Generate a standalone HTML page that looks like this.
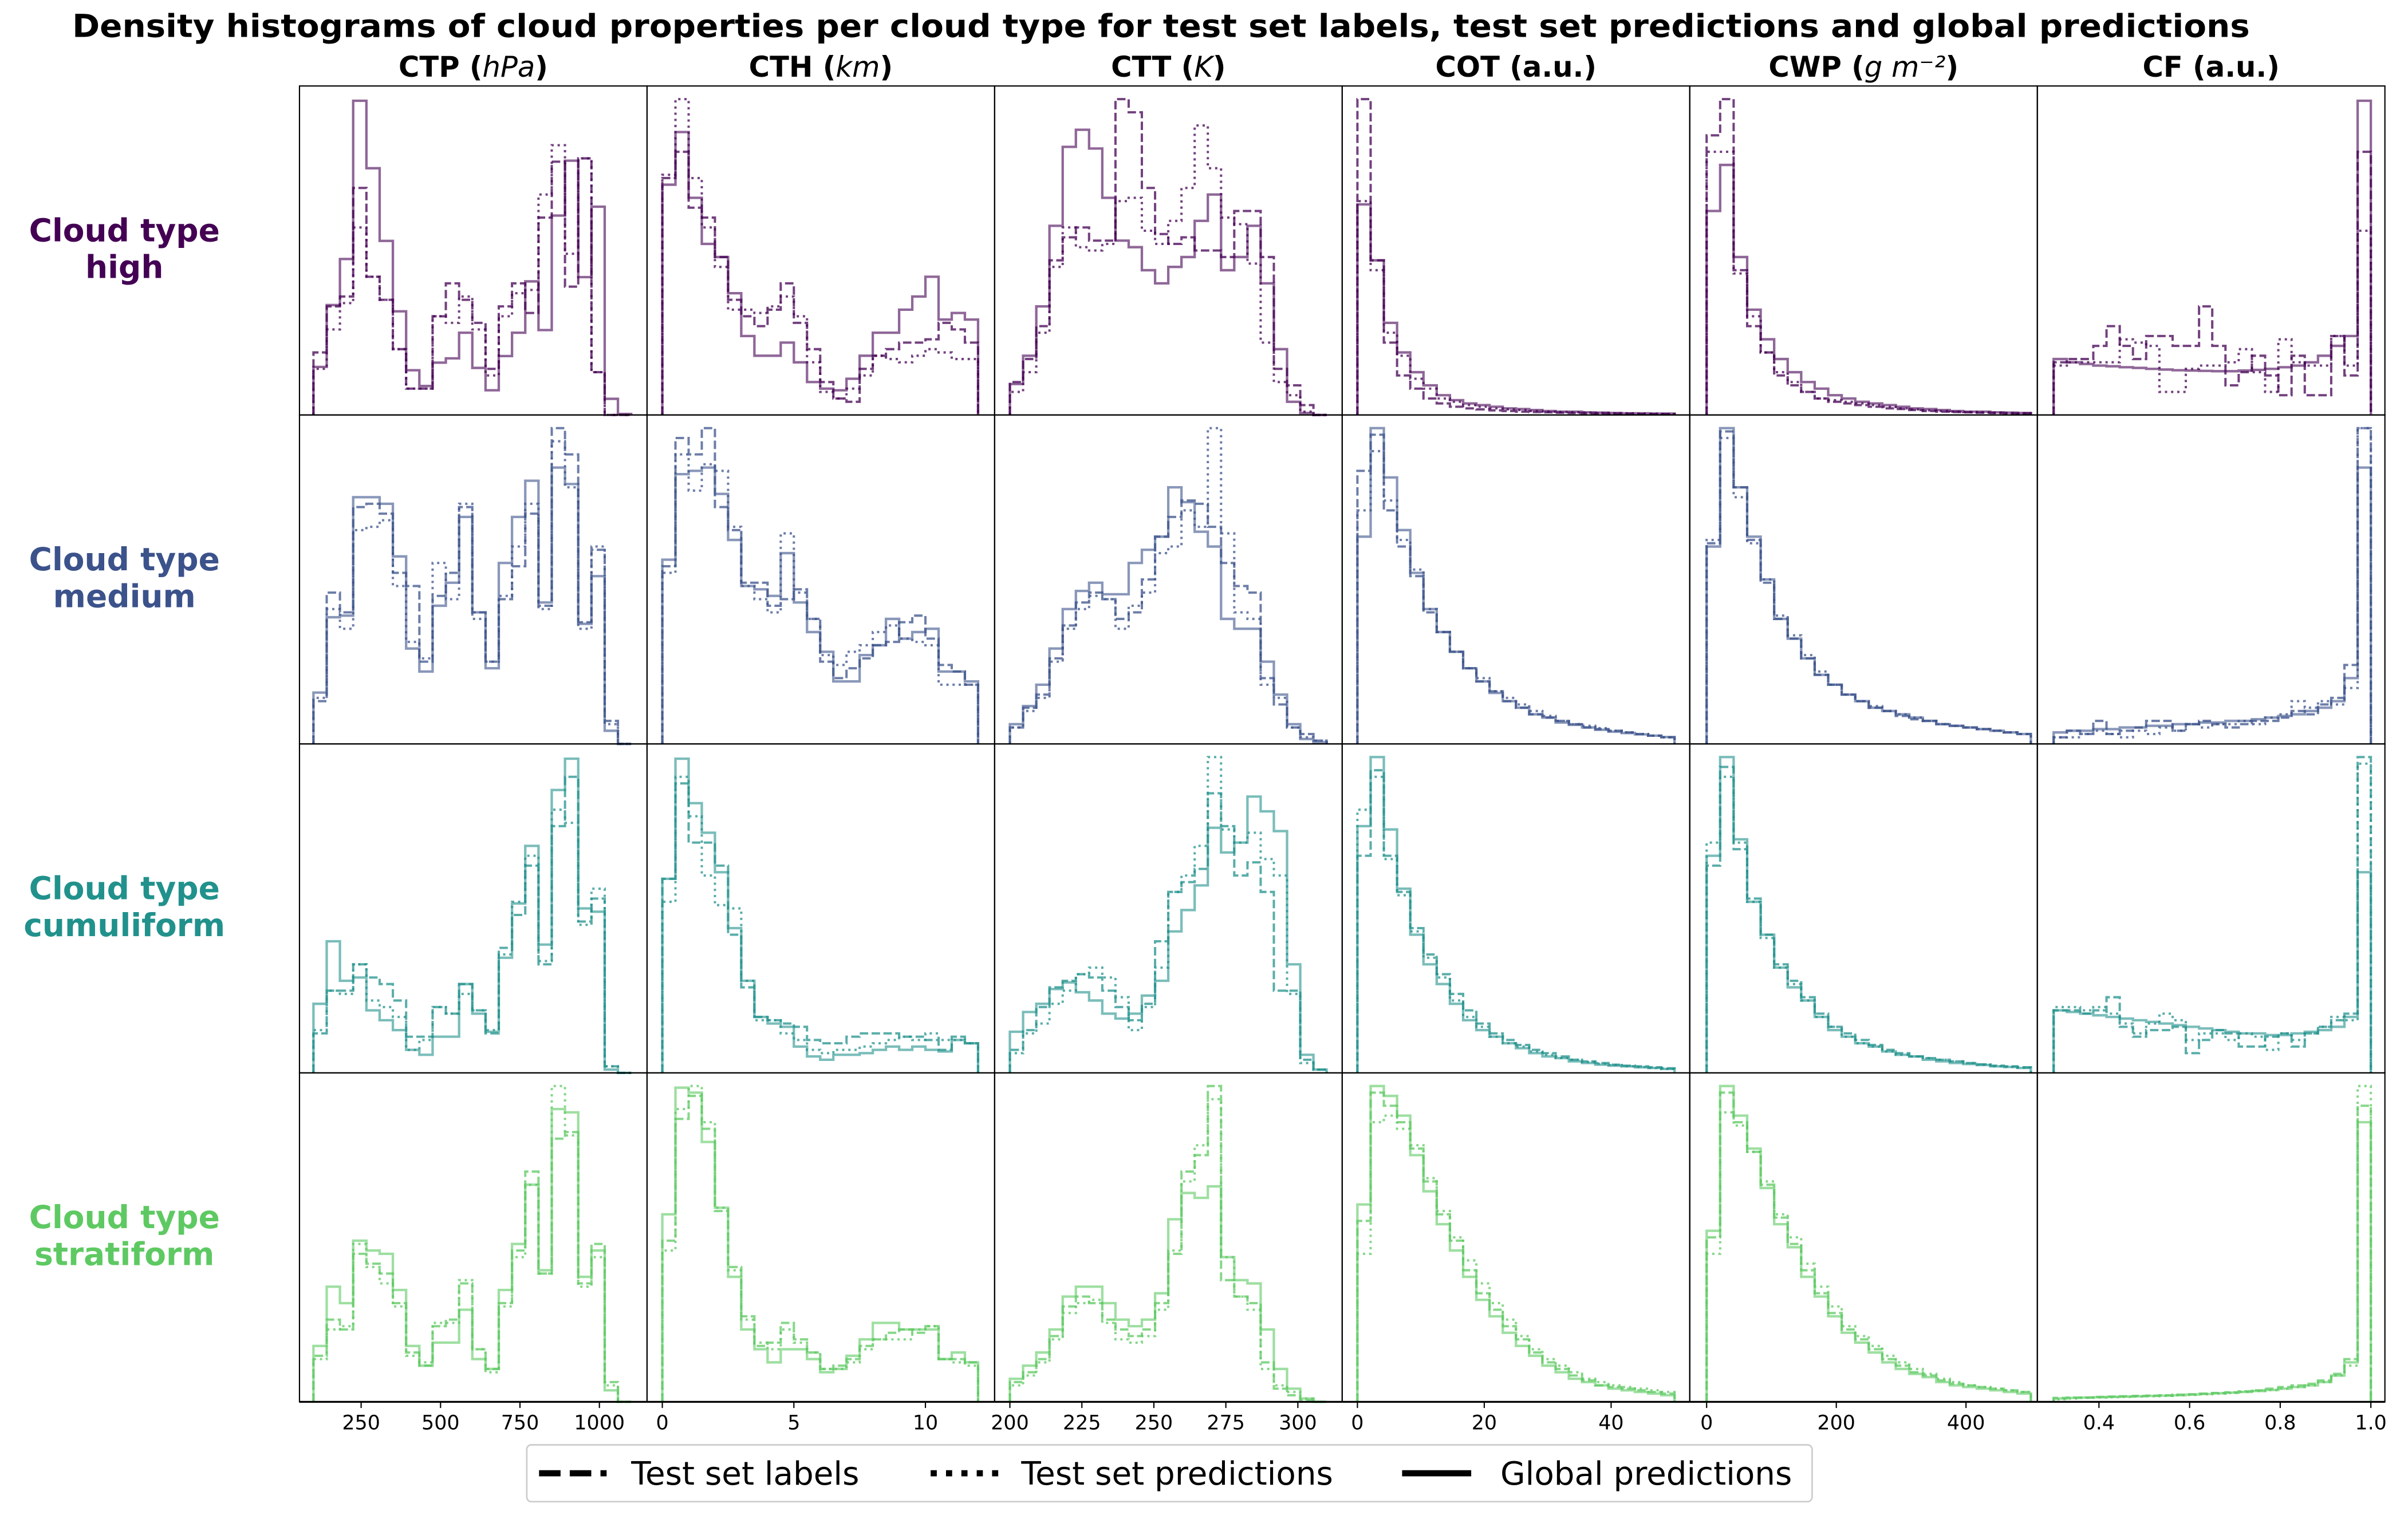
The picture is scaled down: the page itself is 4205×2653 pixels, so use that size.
<!DOCTYPE html>
<html><head><meta charset="utf-8"><title>Density histograms of cloud properties</title>
<style>html,body{margin:0;padding:0;background:#fff;}svg{display:block;}text{font-family:"DejaVu Sans","Liberation Sans",sans-serif;}</style>
</head><body>
<svg id="fig" xmlns="http://www.w3.org/2000/svg" width="4205" height="2653" viewBox="0 0 1568 989.3">
<rect x="0" y="0" width="1568" height="989.3" fill="#fff"/>
<text x="756" y="24" font-size="20.6" font-weight="bold" text-anchor="middle" textLength="1418" lengthAdjust="spacingAndGlyphs">Density histograms of cloud properties per cloud type for test set labels, test set predictions and global predictions</text>
<g id="coltitles"></g><g id="rowlabels"></g><g id="panels"></g><g id="axes"></g>
<g>
<rect x="343" y="941" width="837" height="37" rx="3" fill="#fff" stroke="#ccc" stroke-width="1"/>
<g>
<line x1="351" y1="959.5" x2="395" y2="959.5" stroke="#000" stroke-width="4" stroke-dasharray="14,6"/>
<text x="411" y="967" font-size="21">Test set labels</text></g>
<g>
<line x1="606" y1="959.5" x2="650" y2="959.5" stroke="#000" stroke-width="4" stroke-dasharray="4,6"/>
<text x="665" y="967" font-size="21">Test set predictions</text></g>
<g>
<line x1="913" y1="959.5" x2="958" y2="959.5" stroke="#000" stroke-width="4"/>
<text x="977" y="967" font-size="21">Global predictions</text></g>
</g>
</svg>
<script>
const columns=['CTP','CTH','CTT','COT','CWP','CF'];
const columnUnits=['hPa','km','K','a.u.','g m⁻²','a.u.'];
const rowTypes=['high','medium','cumuliform','stratiform'];
const rowColors=['#440154','#3b528b','#21918c','#5ec962'];
const binRanges=[[100,1100],[0,12],[200,310],[0,50],[0,500],[0.3,1.0]];
const axisRanges=[[56,1150],[-0.58,12.63],[194.7,315.4],[-2.4,52.4],[-26,510],[0.264,1.031]];
const tickValues=[[250,500,750,1000],[0,5,10],[200,225,250,275,300],[0,20,40],[0,200,400],[0.4,0.6,0.8,1.0]];
const tickLabels=[['250','500','750','1000'],['0','5','10'],['200','225','250','275','300'],['0','20','40'],['0','200','400'],['0.4','0.6','0.8','1.0']];

// ---- row: high ----
const ctpHighLabels=[0.19,0.33,0.36,0.69,0.42,0.35,0.20,0.08,0.08,0.30,0.40,0.35,0.28,0.14,0.33,0.40,0.31,0.60,0.77,0.39,0.78,0.13,0.0,0.0];
const ctpHighTest=[0.14,0.26,0.34,0.57,0.42,0.35,0.20,0.08,0.08,0.30,0.28,0.36,0.26,0.12,0.30,0.37,0.38,0.67,0.82,0.49,0.78,0.13,0.0,0.0];
const ctpHighGlobal=[0.146,0.334,0.474,0.955,0.75,0.529,0.315,0.136,0.088,0.159,0.172,0.25,0.143,0.075,0.179,0.25,0.406,0.258,0.606,0.773,0.419,0.633,0.049,0.003];
const cthHighLabels=[0.72,0.80,0.63,0.60,0.48,0.35,0.30,0.27,0.32,0.40,0.28,0.20,0.10,0.05,0.04,0.14,0.18,0.20,0.22,0.22,0.23,0.28,0.26,0.22];
const cthHighTest=[0.73,0.96,0.72,0.57,0.45,0.32,0.32,0.31,0.33,0.36,0.30,0.16,0.07,0.05,0.08,0.12,0.18,0.17,0.16,0.18,0.20,0.19,0.17,0.17];
const cthHighGlobal=[0.70,0.86,0.66,0.52,0.48,0.37,0.24,0.18,0.18,0.22,0.16,0.10,0.08,0.075,0.11,0.18,0.25,0.25,0.32,0.36,0.42,0.29,0.31,0.29];
const cttHighLabels=[0.10,0.17,0.27,0.47,0.54,0.57,0.53,0.53,0.96,0.92,0.69,0.55,0.52,0.54,0.50,0.50,0.48,0.62,0.62,0.48,0.14,0.09,0.03,0];
const cttHighTest=[0.07,0.13,0.25,0.45,0.57,0.51,0.50,0.52,0.65,0.66,0.56,0.52,0.59,0.69,0.88,0.75,0.60,0.58,0.46,0.22,0.10,0.06,0.01,0];
const cttHighGlobal=[0.094,0.18,0.33,0.575,0.815,0.867,0.81,0.66,0.53,0.51,0.44,0.40,0.45,0.48,0.59,0.67,0.44,0.48,0.575,0.40,0.20,0.04,0.006,0];
const cotHighLabels=[0.96,0.47,0.22,0.12,0.08,0.05,0.035,0.025,0.02,0.017,0.014,0.012,0.01,0.009,0.008,0.007,0.006,0.005,0.005,0.004,0.004,0.003,0.003,0.003];
const cotHighTest=[0.65,0.44,0.25,0.18,0.11,0.08,0.05,0.04,0.03,0.025,0.02,0.017,0.015,0.012,0.01,0.009,0.008,0.007,0.006,0.005,0.005,0.004,0.004,0.003];
const cotHighGlobal=[0.64,0.47,0.28,0.19,0.13,0.09,0.06,0.045,0.035,0.03,0.025,0.02,0.018,0.015,0.012,0.01,0.01,0.008,0.007,0.006,0.005,0.005,0.004,0.004];
const cwpHighLabels=[0.85,0.96,0.44,0.27,0.19,0.12,0.09,0.07,0.05,0.04,0.035,0.03,0.025,0.02,0.018,0.015,0.012,0.01,0.009,0.008,0.007,0.006,0.005,0.005];
const cwpHighTest=[0.80,0.80,0.43,0.30,0.19,0.13,0.10,0.07,0.05,0.045,0.04,0.035,0.03,0.025,0.02,0.017,0.014,0.012,0.01,0.009,0.008,0.007,0.006,0.005];
const cwpHighGlobal=[0.62,0.76,0.48,0.32,0.23,0.17,0.13,0.10,0.08,0.06,0.05,0.04,0.035,0.03,0.025,0.02,0.018,0.015,0.012,0.01,0.01,0.008,0.007,0.006];
const cfHighLabels=[0.16,0.17,0.17,0.21,0.27,0.21,0.17,0.24,0.24,0.21,0.21,0.33,0.21,0.09,0.13,0.18,0.12,0.06,0.18,0.06,0.06,0.24,0.12,0.80];
const cfHighTest=[0.15,0.16,0.16,0.16,0.16,0.23,0.22,0.21,0.07,0.07,0.14,0.15,0.15,0.16,0.20,0.13,0.07,0.23,0.16,0.15,0.15,0.24,0.15,0.56];
const cfHighGlobal=[0.17,0.16,0.155,0.15,0.148,0.145,0.143,0.14,0.138,0.136,0.135,0.134,0.133,0.133,0.135,0.137,0.14,0.145,0.15,0.16,0.18,0.21,0.24,0.955];

// ---- row: medium ----
const ctpMediumLabels=[0.13,0.46,0.40,0.72,0.73,0.70,0.52,0.48,0.25,0.45,0.52,0.72,0.40,0.25,0.44,0.54,0.70,0.42,0.96,0.88,0.37,0.59,0.07,0];
const ctpMediumTest=[0.14,0.41,0.35,0.65,0.66,0.68,0.48,0.31,0.26,0.55,0.44,0.73,0.38,0.25,0.45,0.60,0.73,0.41,0.92,0.78,0.35,0.60,0.06,0];
const ctpMediumGlobal=[0.156,0.385,0.39,0.75,0.75,0.73,0.57,0.29,0.22,0.42,0.49,0.69,0.40,0.23,0.55,0.69,0.80,0.43,0.84,0.79,0.365,0.51,0.04,0];
const cthMediumLabels=[0.54,0.93,0.88,0.96,0.72,0.65,0.49,0.49,0.42,0.44,0.47,0.38,0.25,0.20,0.23,0.26,0.30,0.31,0.37,0.39,0.32,0.24,0.22,0.18];
const cthMediumTest=[0.52,0.88,0.77,0.85,0.83,0.66,0.48,0.44,0.40,0.64,0.46,0.38,0.27,0.24,0.28,0.30,0.34,0.36,0.32,0.31,0.30,0.18,0.18,0.18];
const cthMediumGlobal=[0.56,0.82,0.83,0.84,0.76,0.62,0.48,0.47,0.45,0.58,0.43,0.34,0.28,0.19,0.19,0.27,0.30,0.38,0.32,0.34,0.35,0.22,0.22,0.19];
const cttMediumLabels=[0.05,0.11,0.15,0.26,0.36,0.43,0.46,0.44,0.38,0.40,0.50,0.63,0.69,0.74,0.73,0.66,0.55,0.48,0.46,0.20,0.12,0.05,0.03,0.01];
const cttMediumTest=[0.05,0.10,0.14,0.25,0.35,0.41,0.45,0.44,0.35,0.42,0.46,0.58,0.60,0.71,0.66,0.96,0.64,0.40,0.38,0.18,0.14,0.05,0.02,0.01];
const cttMediumGlobal=[0.06,0.115,0.18,0.29,0.41,0.465,0.49,0.455,0.455,0.55,0.59,0.63,0.78,0.735,0.645,0.60,0.38,0.35,0.35,0.25,0.15,0.06,0.015,0.005];
const cotMediumLabels=[0.83,0.94,0.71,0.60,0.51,0.40,0.34,0.28,0.23,0.19,0.16,0.13,0.11,0.09,0.08,0.07,0.06,0.05,0.045,0.04,0.035,0.03,0.025,0.02];
const cotMediumTest=[0.71,0.89,0.74,0.62,0.53,0.41,0.34,0.28,0.23,0.20,0.16,0.14,0.12,0.10,0.085,0.07,0.06,0.055,0.048,0.04,0.035,0.03,0.025,0.02];
const cotMediumGlobal=[0.63,0.96,0.81,0.65,0.52,0.41,0.34,0.28,0.23,0.19,0.155,0.13,0.11,0.09,0.08,0.065,0.058,0.05,0.043,0.037,0.033,0.029,0.025,0.021];
const cwpMediumLabels=[0.61,0.95,0.78,0.62,0.49,0.38,0.32,0.26,0.21,0.18,0.15,0.13,0.11,0.10,0.085,0.075,0.07,0.06,0.055,0.05,0.045,0.04,0.035,0.03];
const cwpMediumTest=[0.62,0.93,0.75,0.61,0.50,0.39,0.33,0.27,0.22,0.18,0.15,0.13,0.115,0.10,0.09,0.08,0.07,0.06,0.055,0.05,0.045,0.04,0.035,0.03];
const cwpMediumGlobal=[0.60,0.96,0.78,0.63,0.50,0.38,0.32,0.26,0.21,0.18,0.15,0.13,0.11,0.10,0.09,0.08,0.07,0.06,0.055,0.05,0.045,0.04,0.035,0.03];
const cfMediumLabels=[0.02,0.04,0.03,0.07,0.03,0.04,0.05,0.07,0.07,0.04,0.06,0.07,0.06,0.05,0.06,0.07,0.07,0.08,0.10,0.09,0.12,0.14,0.24,0.96];
const cfMediumTest=[0.02,0.02,0.03,0.04,0.03,0.02,0.04,0.03,0.05,0.04,0.06,0.05,0.06,0.06,0.07,0.06,0.08,0.09,0.13,0.11,0.13,0.12,0.17,0.96];
const cfMediumGlobal=[0.035,0.04,0.04,0.045,0.045,0.05,0.05,0.055,0.055,0.06,0.06,0.065,0.065,0.07,0.07,0.075,0.08,0.085,0.09,0.10,0.11,0.13,0.20,0.84];

// ---- row: cumuliform ----
const ctpCumuliformLabels=[0.12,0.25,0.25,0.33,0.29,0.27,0.22,0.11,0.11,0.20,0.18,0.27,0.19,0.12,0.38,0.48,0.63,0.33,0.75,0.90,0.46,0.53,0.02,0];
const ctpCumuliformTest=[0.13,0.25,0.24,0.33,0.22,0.20,0.17,0.07,0.10,0.20,0.18,0.24,0.19,0.13,0.36,0.52,0.66,0.34,0.80,0.76,0.45,0.56,0.02,0];
const ctpCumuliformGlobal=[0.21,0.40,0.28,0.29,0.19,0.16,0.13,0.07,0.055,0.11,0.11,0.27,0.18,0.125,0.35,0.515,0.69,0.39,0.86,0.955,0.50,0.49,0.01,0];
const cthCumuliformLabels=[0.59,0.88,0.70,0.70,0.63,0.42,0.26,0.17,0.16,0.15,0.14,0.10,0.09,0.09,0.11,0.12,0.12,0.12,0.11,0.11,0.10,0.07,0.11,0.09];
const cthCumuliformTest=[0.52,0.90,0.78,0.60,0.51,0.50,0.28,0.16,0.16,0.12,0.10,0.07,0.06,0.07,0.07,0.08,0.09,0.10,0.11,0.10,0.12,0.10,0.10,0.09];
const cthCumuliformGlobal=[0.59,0.955,0.82,0.73,0.61,0.44,0.28,0.17,0.15,0.14,0.08,0.05,0.04,0.055,0.055,0.06,0.07,0.08,0.07,0.08,0.07,0.065,0.10,0.09];
const cttCumuliformLabels=[0.07,0.13,0.20,0.26,0.28,0.30,0.29,0.25,0.20,0.16,0.21,0.40,0.55,0.58,0.62,0.85,0.75,0.60,0.64,0.55,0.25,0.25,0.04,0.01];
const cttCumuliformTest=[0.06,0.12,0.15,0.21,0.25,0.30,0.32,0.29,0.23,0.13,0.20,0.32,0.55,0.60,0.69,0.96,0.74,0.70,0.73,0.65,0.60,0.24,0.03,0.01];
const cttCumuliformGlobal=[0.125,0.185,0.21,0.255,0.275,0.245,0.22,0.18,0.165,0.18,0.235,0.28,0.43,0.495,0.57,0.745,0.67,0.70,0.84,0.795,0.735,0.33,0.055,0.01];
const cotCumuliformLabels=[0.66,0.92,0.66,0.55,0.44,0.36,0.30,0.24,0.19,0.15,0.12,0.10,0.085,0.07,0.06,0.05,0.04,0.035,0.03,0.025,0.022,0.02,0.017,0.014];
const cotCumuliformTest=[0.80,0.90,0.65,0.54,0.43,0.35,0.29,0.22,0.17,0.14,0.11,0.09,0.08,0.065,0.055,0.045,0.04,0.033,0.028,0.024,0.02,0.018,0.015,0.012];
const cotCumuliformGlobal=[0.75,0.96,0.74,0.56,0.42,0.33,0.27,0.21,0.16,0.13,0.11,0.09,0.075,0.06,0.05,0.045,0.035,0.03,0.025,0.022,0.02,0.017,0.015,0.012];
const cwpCumuliformLabels=[0.63,0.93,0.68,0.53,0.42,0.33,0.28,0.23,0.18,0.14,0.12,0.10,0.085,0.07,0.06,0.05,0.045,0.04,0.035,0.03,0.026,0.022,0.02,0.017];
const cwpCumuliformTest=[0.70,0.90,0.70,0.52,0.41,0.32,0.27,0.22,0.17,0.14,0.11,0.09,0.08,0.065,0.055,0.05,0.045,0.04,0.035,0.03,0.025,0.02,0.018,0.016];
const cwpCumuliformGlobal=[0.66,0.96,0.71,0.52,0.42,0.32,0.26,0.22,0.17,0.13,0.11,0.09,0.08,0.065,0.055,0.05,0.04,0.035,0.03,0.027,0.024,0.02,0.018,0.015];
const cfCumuliformLabels=[0.19,0.19,0.18,0.19,0.23,0.14,0.11,0.13,0.13,0.14,0.06,0.10,0.13,0.12,0.08,0.08,0.11,0.12,0.08,0.12,0.14,0.16,0.18,0.96];
const cfCumuliformTest=[0.20,0.20,0.19,0.20,0.18,0.15,0.12,0.15,0.18,0.16,0.10,0.12,0.12,0.10,0.12,0.11,0.07,0.12,0.10,0.12,0.14,0.17,0.16,0.94];
const cfCumuliformGlobal=[0.19,0.185,0.18,0.175,0.17,0.165,0.16,0.155,0.15,0.145,0.14,0.135,0.13,0.125,0.12,0.12,0.115,0.115,0.12,0.125,0.13,0.14,0.17,0.61];

// ---- row: stratiform ----
const ctpStratiformLabels=[0.14,0.25,0.22,0.45,0.42,0.39,0.30,0.15,0.11,0.23,0.25,0.36,0.16,0.10,0.30,0.46,0.70,0.39,0.80,0.82,0.36,0.48,0.06,0];
const ctpStratiformTest=[0.13,0.22,0.23,0.48,0.41,0.36,0.29,0.14,0.12,0.24,0.24,0.37,0.16,0.09,0.29,0.44,0.66,0.39,0.96,0.81,0.35,0.44,0.05,0];
const ctpStratiformGlobal=[0.17,0.35,0.30,0.49,0.46,0.45,0.34,0.17,0.11,0.18,0.18,0.28,0.13,0.10,0.34,0.48,0.66,0.40,0.89,0.88,0.38,0.46,0.035,0];
const cthStratiformLabels=[0.49,0.86,0.93,0.83,0.58,0.41,0.26,0.17,0.18,0.24,0.19,0.15,0.10,0.11,0.13,0.17,0.19,0.21,0.22,0.21,0.23,0.13,0.13,0.12];
const cthStratiformTest=[0.46,0.89,0.96,0.85,0.59,0.40,0.25,0.18,0.16,0.22,0.18,0.15,0.10,0.10,0.12,0.16,0.19,0.19,0.19,0.22,0.23,0.13,0.12,0.11];
const cthStratiformGlobal=[0.57,0.955,0.94,0.79,0.59,0.38,0.22,0.16,0.12,0.16,0.16,0.13,0.09,0.10,0.14,0.19,0.24,0.24,0.22,0.22,0.22,0.13,0.15,0.12];
const cttStratiformLabels=[0.06,0.09,0.13,0.20,0.29,0.32,0.30,0.25,0.22,0.20,0.22,0.30,0.45,0.70,0.75,0.96,0.37,0.32,0.30,0.12,0.04,0.02,0.005,0];
const cttStratiformTest=[0.05,0.08,0.12,0.19,0.27,0.30,0.31,0.24,0.19,0.18,0.20,0.28,0.46,0.67,0.78,0.92,0.44,0.32,0.28,0.10,0.05,0.03,0.01,0];
const cttStratiformGlobal=[0.07,0.11,0.15,0.22,0.32,0.35,0.35,0.30,0.25,0.23,0.25,0.33,0.555,0.635,0.62,0.655,0.44,0.37,0.36,0.22,0.10,0.04,0.01,0];
const cotStratiformLabels=[0.55,0.94,0.90,0.85,0.77,0.67,0.57,0.49,0.40,0.33,0.28,0.23,0.19,0.15,0.12,0.10,0.08,0.065,0.05,0.045,0.04,0.035,0.03,0.025];
const cotStratiformTest=[0.45,0.85,0.87,0.83,0.78,0.68,0.58,0.50,0.43,0.36,0.30,0.25,0.20,0.16,0.13,0.11,0.09,0.07,0.06,0.05,0.045,0.04,0.035,0.03];
const cotStratiformGlobal=[0.60,0.96,0.93,0.87,0.75,0.64,0.54,0.46,0.38,0.31,0.26,0.21,0.17,0.14,0.11,0.09,0.07,0.06,0.05,0.04,0.035,0.03,0.025,0.02];
const cwpStratiformLabels=[0.50,0.94,0.85,0.76,0.66,0.56,0.48,0.40,0.33,0.27,0.22,0.19,0.16,0.13,0.11,0.09,0.08,0.065,0.055,0.05,0.045,0.04,0.035,0.03];
const cwpStratiformTest=[0.45,0.88,0.84,0.76,0.67,0.57,0.50,0.42,0.35,0.29,0.23,0.20,0.17,0.14,0.12,0.10,0.085,0.07,0.06,0.05,0.045,0.04,0.035,0.03];
const cwpStratiformGlobal=[0.52,0.96,0.87,0.77,0.65,0.54,0.47,0.38,0.32,0.26,0.21,0.18,0.15,0.12,0.10,0.085,0.075,0.06,0.05,0.045,0.04,0.035,0.03,0.025];
const cfStratiformLabels=[0.012,0.013,0.013,0.015,0.016,0.017,0.018,0.019,0.02,0.022,0.023,0.025,0.027,0.029,0.032,0.035,0.04,0.045,0.05,0.055,0.065,0.085,0.13,0.90];
const cfStratiformTest=[0.008,0.01,0.012,0.013,0.014,0.015,0.016,0.017,0.018,0.02,0.021,0.023,0.025,0.027,0.03,0.033,0.036,0.04,0.045,0.05,0.06,0.08,0.11,0.96];
const cfStratiformGlobal=[0.01,0.012,0.013,0.014,0.015,0.016,0.017,0.018,0.019,0.02,0.022,0.024,0.026,0.028,0.03,0.033,0.036,0.04,0.045,0.05,0.06,0.08,0.12,0.85];

const panelSeries=[
 [[ctpHighLabels,ctpHighTest,ctpHighGlobal],[cthHighLabels,cthHighTest,cthHighGlobal],[cttHighLabels,cttHighTest,cttHighGlobal],[cotHighLabels,cotHighTest,cotHighGlobal],[cwpHighLabels,cwpHighTest,cwpHighGlobal],[cfHighLabels,cfHighTest,cfHighGlobal]],
 [[ctpMediumLabels,ctpMediumTest,ctpMediumGlobal],[cthMediumLabels,cthMediumTest,cthMediumGlobal],[cttMediumLabels,cttMediumTest,cttMediumGlobal],[cotMediumLabels,cotMediumTest,cotMediumGlobal],[cwpMediumLabels,cwpMediumTest,cwpMediumGlobal],[cfMediumLabels,cfMediumTest,cfMediumGlobal]],
 [[ctpCumuliformLabels,ctpCumuliformTest,ctpCumuliformGlobal],[cthCumuliformLabels,cthCumuliformTest,cthCumuliformGlobal],[cttCumuliformLabels,cttCumuliformTest,cttCumuliformGlobal],[cotCumuliformLabels,cotCumuliformTest,cotCumuliformGlobal],[cwpCumuliformLabels,cwpCumuliformTest,cwpCumuliformGlobal],[cfCumuliformLabels,cfCumuliformTest,cfCumuliformGlobal]],
 [[ctpStratiformLabels,ctpStratiformTest,ctpStratiformGlobal],[cthStratiformLabels,cthStratiformTest,cthStratiformGlobal],[cttStratiformLabels,cttStratiformTest,cttStratiformGlobal],[cotStratiformLabels,cotStratiformTest,cotStratiformGlobal],[cwpStratiformLabels,cwpStratiformTest,cwpStratiformGlobal],[cfStratiformLabels,cfStratiformTest,cfStratiformGlobal]]
];
const seriesNames=['test-set-labels','test-set-predictions','global-predictions'];

const NS='http://www.w3.org/2000/svg';
const X0=195, PW=226.33, Y0=56, PH=214.25;
function mk(tag,attrs,parent){const e=document.createElementNS(NS,tag);for(const k in attrs)e.setAttribute(k,attrs[k]);parent.appendChild(e);return e;}
function xScale(c,v){const r=axisRanges[c];const left=X0+c*PW;return left+(v-r[0])/(r[1]-r[0])*PW;}
function yScale(r,v){return Y0+(r+1)*PH - v*PH;}

const gP=document.getElementById('panels'), gA=document.getElementById('axes'), gC=document.getElementById('coltitles'), gR=document.getElementById('rowlabels');

columns.forEach((name,c)=>{
  const t=mk('text',{x:X0+c*PW+PW/2,y:50,'font-size':18.5,'font-weight':'bold','text-anchor':'middle'},gC);
  
  
  const u=columnUnits[c];
  if(u==='a.u.'){t.textContent=name+' (a.u.)';}
  else{
    t.appendChild(document.createTextNode(name+' ('));
    const s=mk('tspan',{'font-style':'italic','font-weight':'normal'},t);s.textContent=u;
    t.appendChild(document.createTextNode(')'));
  }
});
rowTypes.forEach((name,r)=>{
  const cy=Y0+r*PH+PH/2;
  const t=mk('text',{x:81,y:cy-6,'font-size':20.5,'font-weight':'bold','text-anchor':'middle',fill:rowColors[r]},gR);
  
  
  const a=mk('tspan',{x:81,dy:0},t);a.textContent='Cloud type';
  const b=mk('tspan',{x:81,dy:24},t);b.textContent=name;
});

const styles=[{dash:'5.5,2.2',op:0.75,w:1.5},{dash:'1.5,2.5',op:0.75,w:1.5},{dash:null,op:0.6,w:1.6}];
for(let r=0;r<4;r++){
  for(let c=0;c<6;c++){
    const g=mk('g',{},gP);
    
    
    const lo=binRanges[c][0], hi=binRanges[c][1];
    panelSeries[r][c].forEach((vals,s)=>{
      const n=vals.length, bw=(hi-lo)/n;
      let d='M'+xScale(c,lo).toFixed(2)+','+yScale(r,0).toFixed(2);
      vals.forEach((v,i)=>{
        d+=' V'+yScale(r,v).toFixed(2)+' H'+xScale(c,lo+(i+1)*bw).toFixed(2);
      });
      d+=' V'+yScale(r,0).toFixed(2);
      const st=styles[s];
      const p=mk('path',{d:d,fill:'none',stroke:rowColors[r],'stroke-width':st.w,'stroke-opacity':st.op,'stroke-linejoin':'miter'},g);
      if(st.dash)p.setAttribute('stroke-dasharray',st.dash);
      
      
    });
    const fr=mk('rect',{x:X0+c*PW,y:Y0+r*PH,width:PW,height:PH,fill:'none',stroke:'#000','stroke-width':0.8},gA);
    
    
  }
}
columns.forEach((name,c)=>{
  const ax=mk('g',{},gA);
  
  
  mk('line',{x1:X0+c*PW,x2:X0+(c+1)*PW,y1:Y0+4*PH,y2:Y0+4*PH,stroke:'#000','stroke-width':1.2},ax);
  tickValues[c].forEach((v,i)=>{
    const x=xScale(c,v);
    mk('line',{x1:x,x2:x,y1:Y0+4*PH,y2:Y0+4*PH+4,stroke:'#000','stroke-width':0.8},ax);
    const t=mk('text',{x:x,y:Y0+4*PH+18,'font-size':13,'text-anchor':'middle'},ax);
    
    
    t.textContent=tickLabels[c][i];
  });
});
</script>
</body></html>
